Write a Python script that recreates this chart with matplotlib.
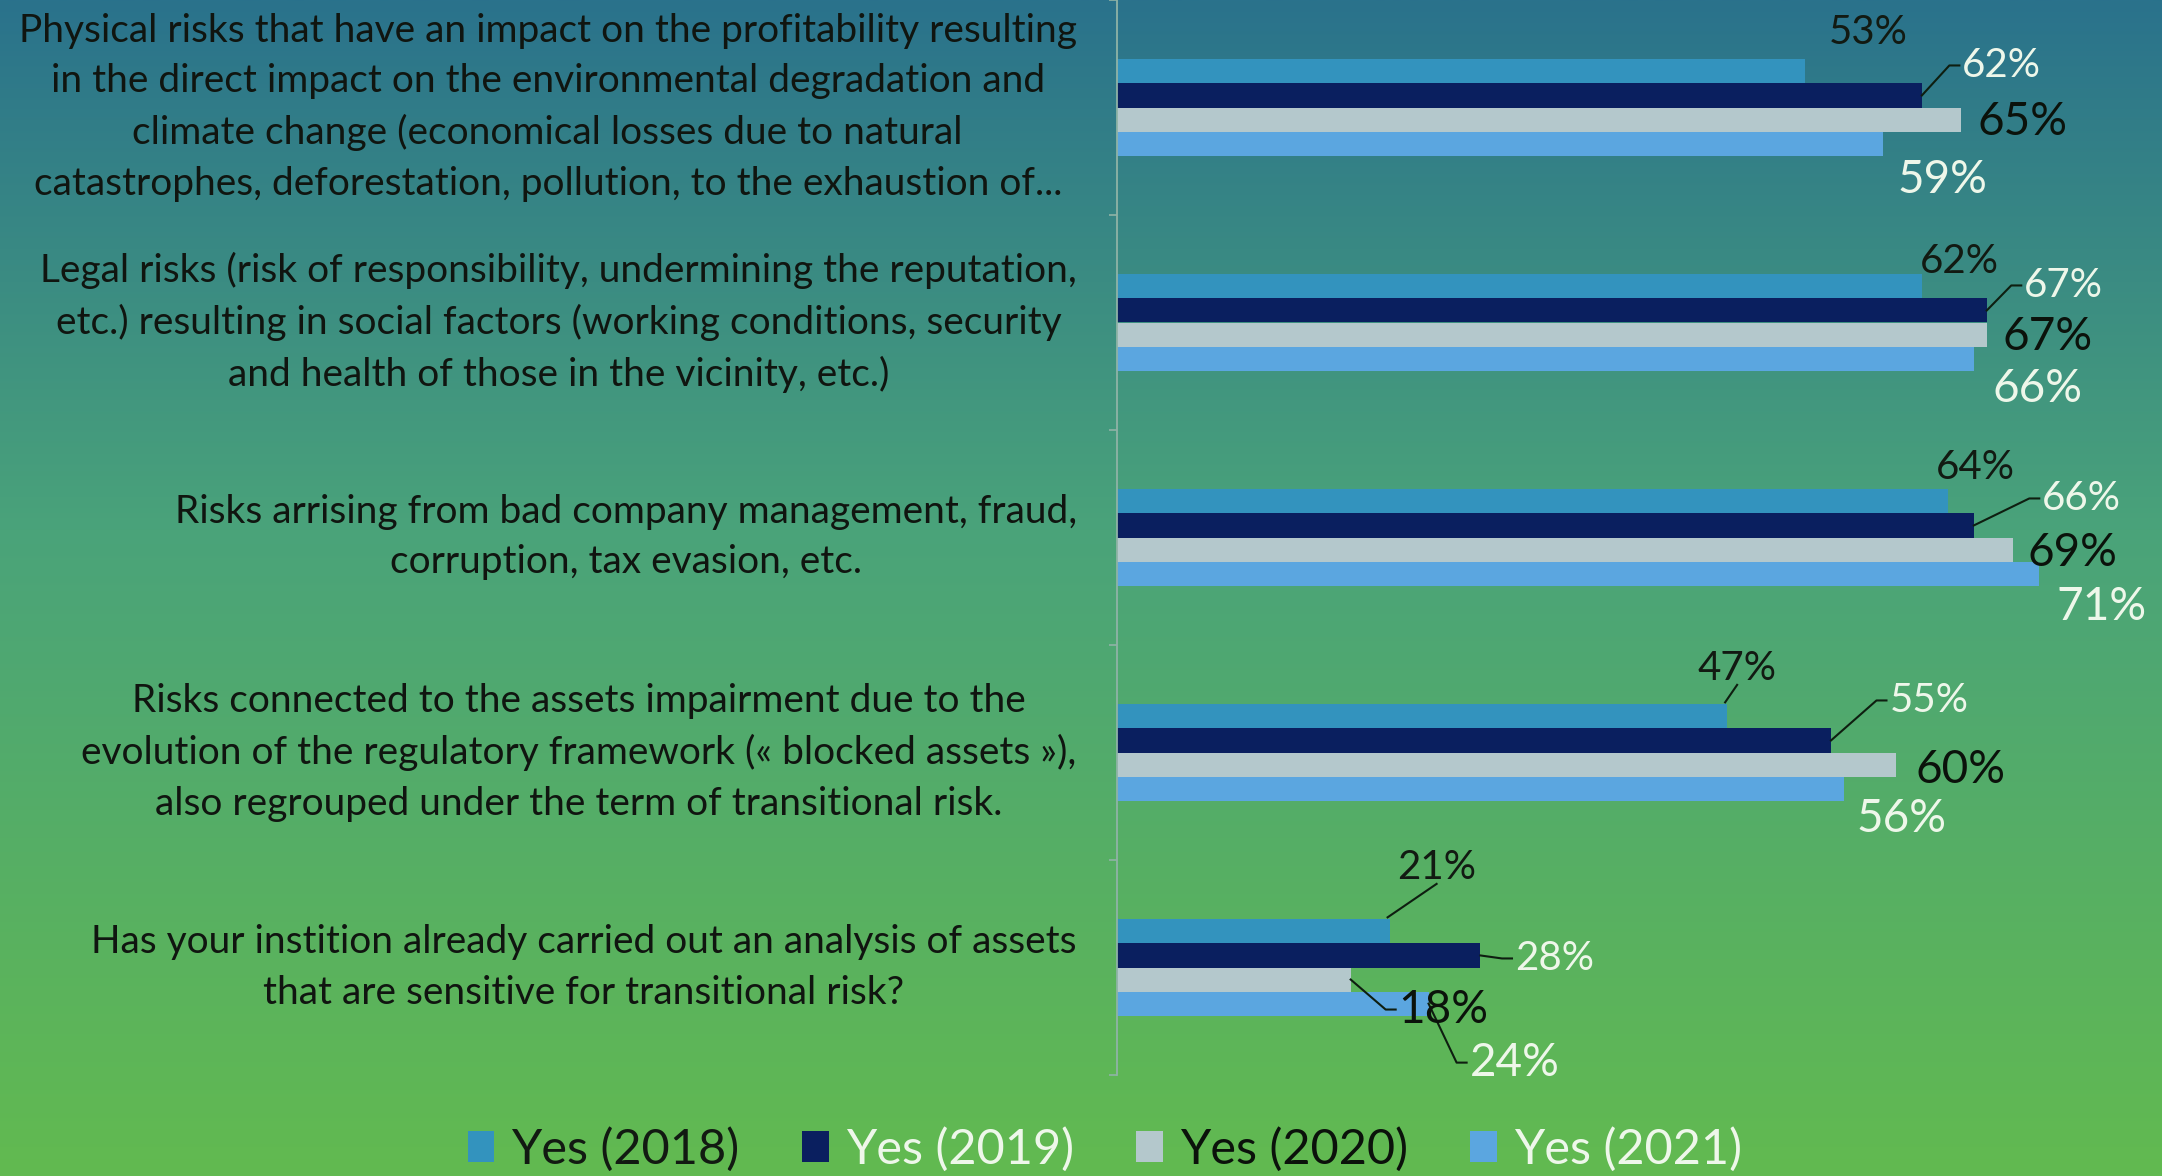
import numpy as np
import matplotlib.pyplot as plt
import matplotlib.transforms as mtransforms

# categories, top to bottom
categories = [
    "Physical risks that have an impact on the profitability resulting\n"
    "in the direct impact on the environmental degradation and\n"
    "climate change (economical losses due to natural\n"
    "catastrophes, deforestation, pollution, to the exhaustion of...",
    "Legal risks (risk of responsibility, undermining the reputation,\n"
    "etc.) resulting in social factors (working conditions, security\n"
    "and health of those in the vicinity, etc.)",
    "Risks arrising from bad company management, fraud,\n"
    "corruption, tax evasion, etc.",
    "Risks connected to the assets impairment due to the\n"
    "evolution of the regulatory framework (\u00ab blocked assets \u00bb),\n"
    "also regrouped under the term of transitional risk.",
    "Has your instition already carried out an analysis of assets\n"
    "that are sensitive for transitional risk?",
]
series = ['Yes (2018)', 'Yes (2019)', 'Yes (2020)', 'Yes (2021)']
yes_2018 = [0.53, 0.62, 0.64, 0.47, 0.21]
yes_2019 = [0.62, 0.67, 0.66, 0.55, 0.28]
yes_2020 = [0.65, 0.67, 0.69, 0.60, 0.18]
yes_2021 = [0.59, 0.66, 0.71, 0.56, 0.24]
values = [yes_2018, yes_2019, yes_2020, yes_2021]

colors = ['#3393be', '#0a1f5f', '#b4c8cc', '#5ba6e0']
text_colors = ['#121a12', '#eef7ea', '#0b120b', '#eef7ea']
label_sizes = [29, 29, 33, 33]

# hand placed data labels: (dx, dy) in pixels from bar end, dy downwards
offsets = [
    [(63, -39), (80, -30), (62, 2), (60, 36)],
    [(38, -25), (77, -25), (61, 2), (64, 30)],
    [(28, -34), (108, -27), (60, 3), (63, 33)],
    [(10, -48), (98, -40), (65, 5), (58, 30)],
    [(47, -64), (74, 3), (93, 30), (86, 59)],
]
leaders = {(0, 1): 'side', (1, 1): 'side', (2, 1): 'side', (3, 1): 'side',
           (4, 1): 'side', (4, 2): 'side', (4, 3): 'side',
           (3, 0): 'below', (4, 0): 'below'}

plt.rcParams['font.family'] = ['Lato', 'DejaVu Sans']

W, H = 2162, 1176
fig = plt.figure(figsize=(W / 100, H / 100), dpi=100)

# gradient background
bg = fig.add_axes([0, 0, 1, 1], zorder=-1)
t = np.linspace(0, 1, 400)
stops = [0, 0.45, 1]
r = np.interp(t, stops, [42, 74, 98])
g = np.interp(t, stops, [114, 163, 186])
b = np.interp(t, stops, [140, 122, 80])
grad = np.stack([r, g, b], axis=-1)[:, None, :] / 255
bg.imshow(grad, aspect='auto', extent=[0, 1, 0, 1], origin='upper')
bg.axis('off')

x0 = 1117
ax = fig.add_axes([x0 / W, 1 - 1075 / H, 1 - x0 / W, 1075 / H])
ax.patch.set_visible(False)

y = np.arange(len(categories))
h = 0.112
for i, vals in enumerate(values):
    ax.barh(y + (i - 1.5) * h, vals, height=h, color=colors[i], label=series[i], zorder=2)

ax.set_xlim(0, 0.805)
ax.set_ylim(4.5, -0.5)
ax.set_xticks([])
ax.set_yticks(y)
ax.set_yticklabels(categories, fontsize=28, color='#101510', ha='right',
                   multialignment='center', linespacing=1.5)
ax.tick_params(axis='y', which='major', length=0, pad=29)
# nudge the category labels up a little
shift = mtransforms.ScaledTranslation(0, 0.11, fig.dpi_scale_trans)
for lab in ax.get_yticklabels():
    lab.set_transform(lab.get_transform() + shift)
ax.set_yticks(np.arange(-0.5, 5, 1), minor=True)
ax.tick_params(axis='y', which='minor', length=6, color='#8fb3a6', width=1.2)
for s in ['top', 'right', 'bottom']:
    ax.spines[s].set_visible(False)
ax.spines['left'].set_color('#8fb3a6')
ax.spines['left'].set_linewidth(1.3)

texts = {}
for k in range(len(categories)):
    for i, vals in enumerate(values):
        v = vals[k]
        yb = y[k] + (i - 1.5) * h
        dx, dy = offsets[k][i]
        txt = ax.annotate(f"{round(v * 100)}%", xy=(v, yb), xytext=(dx, -dy),
                          textcoords='offset pixels', ha='center', va='center',
                          fontsize=label_sizes[i], color=text_colors[i], zorder=5,
                          annotation_clip=False)
        texts[(k, i)] = (txt, v, yb)

# legend
handles, labels = ax.get_legend_handles_labels()
leg = fig.legend(handles, labels, loc='center', bbox_to_anchor=(0.511, 1 - 1149 / H),
                 ncol=4, frameon=False, fontsize=35, handlelength=0.55,
                 handleheight=0.6, handletextpad=0.35, columnspacing=1.28)
for txt, c in zip(leg.get_texts(), text_colors):
    txt.set_color(c)

# leader lines
fig.canvas.draw()
inv = ax.transData.inverted()
for (k, i), mode in leaders.items():
    txt, v, yb = texts[(k, i)]
    bb = txt.get_window_extent()
    if mode == 'below':
        ax_, ay_ = ax.transData.transform((v, yb - h / 2))
        pts = [(ax_ - 2, ay_ + 2), ((bb.x0 + bb.x1) / 2, bb.y0 + 2)]
    else:
        ax_, ay_ = ax.transData.transform((v, yb))
        bx, by = bb.x0 - 3, (bb.y0 + bb.y1) / 2
        pts = [(ax_, ay_), (bx - 10, by), (bx, by)]
    d = inv.transform(pts)
    ax.plot(d[:, 0], d[:, 1], color='#0e1e10', lw=1.5, clip_on=False, zorder=4)

fig.savefig('out.png', dpi=100)
